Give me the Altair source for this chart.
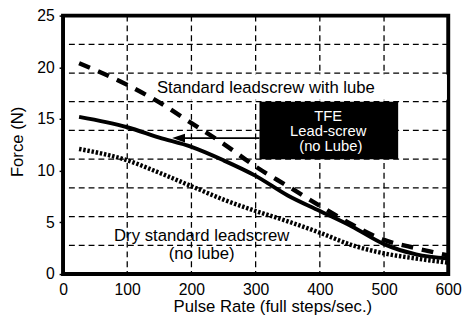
import altair as alt
import pandas as pd

# ---- data ----
pulse_rate = [25, 100, 150, 200, 250, 300, 350, 400, 450, 500, 550, 600]
force_lube = [20.4, 18.3, 16.6, 14.6, 12.6, 10.4, 8.5, 6.6, 4.8, 3.3, 2.5, 1.8]
force_tfe = [15.2, 14.2, 13.2, 12.3, 11.0, 9.5, 7.6, 6.1, 4.6, 2.9, 1.9, 1.5]
force_dry = [12.1, 11.0, 9.8, 8.5, 7.2, 6.1, 5.1, 4.0, 2.8, 2.0, 1.5, 1.1]

x_ticks = [0, 100, 200, 300, 400, 500, 600]
y_ticks = [0, 5, 10, 15, 20, 25]
grid_x = [100, 200, 300, 400, 500]
grid_y = [2.78, 5.56, 8.33, 11.11, 13.89, 16.67, 19.44, 22.22]

label_lube = "Standard leadscrew with lube"
label_tfe = ["TFE", "Lead-screw", "(no Lube)"]
label_dry = ["Dry standard leadscrew", "(no lube)"]

FONT = "Liberation Sans"

X = alt.Scale(domain=[0, 600], nice=False, zero=False)
Y = alt.Scale(domain=[0, 25], nice=False, zero=False)

x_axis = alt.Axis(values=x_ticks, title="Pulse Rate (full steps/sec.)", domain=False,
                  ticks=False, grid=False, labelFontSize=16, labelFont=FONT,
                  labelColor="black", labelPadding=8, labelOverlap=False, labelFlush=False,
                  labelBound=False, titleFont=FONT, titleFontSize=17, titleFontWeight="normal",
                  titleColor="black", titleX=213, titleY=38, titleBaseline="alphabetic",
                  titleAlign="center")
y_axis = alt.Axis(values=y_ticks, title="Force (N)", domain=False, ticks=True, tickSize=4,
                  tickColor="black", tickWidth=1.5, grid=False, labelFontSize=16,
                  labelFont=FONT, labelColor="black", labelPadding=5, labelOverlap=False,
                  labelFlush=False, labelBound=False, titleFont=FONT, titleFontSize=17,
                  titleFontWeight="normal", titleColor="black", titleAngle=270,
                  titleX=-46, titleY=128, titleAlign="center", titleBaseline="middle")

def xe(field="x"):
    return alt.X(f"{field}:Q", scale=X, axis=x_axis)

def ye(field="y"):
    return alt.Y(f"{field}:Q", scale=Y, axis=y_axis)

# grid
vgrid = alt.Chart(pd.DataFrame({"x": grid_x})).mark_rule(
    color="black", strokeWidth=1.3, strokeDash=[6, 4]).encode(x=xe("x"))
hgrid = alt.Chart(pd.DataFrame({"y": grid_y})).mark_rule(
    color="black", strokeWidth=1.3, strokeDash=[6, 4]).encode(y=ye("y"))

# white band behind the upper label
band = alt.Chart(pd.DataFrame({"x": [106], "x2": [598], "y": [16.85], "y2": [19.3]})).mark_rect(
    color="white").encode(x=xe(), x2="x2:Q", y=ye(), y2="y2:Q")

def curve(values, dash, width):
    df = pd.DataFrame({"x": pulse_rate, "y": values})
    kw = dict(color="black", strokeWidth=width, interpolate="monotone", clip=True)
    if dash:
        kw["strokeDash"] = dash
    return alt.Chart(df).mark_line(**kw).encode(x=xe(), y=ye())

line_lube = curve(force_lube, [12, 9], 4.5)
line_tfe = curve(force_tfe, None, 4)
line_dry = curve(force_dry, [2.5, 1.8], 4.5)

# TFE box + arrow
box = alt.Chart(pd.DataFrame({"x": [306], "x2": [522], "y": [11.11], "y2": [16.67]})).mark_rect(
    color="black").encode(x=xe(), x2="x2:Q", y=ye(), y2="y2:Q")
arrow_line = alt.Chart(pd.DataFrame({"x": [178], "x2": [306], "y": [13.15]})).mark_rule(
    color="black", strokeWidth=2).encode(x=xe(), x2="x2:Q", y=ye())
arrow_head = alt.Chart(pd.DataFrame({"x": [180], "y": [13.15]})).mark_point(
    shape="M -1 0 L 1 -0.7 L 1 0.7 Z", size=169, filled=True, color="black", opacity=1,
    strokeWidth=0).encode(x=xe(), y=ye())

tfe_text = alt.Chart(pd.DataFrame({"x": [413, 413, 417], "y": [14.83, 13.4, 11.95],
                                   "t": label_tfe})).mark_text(
    font=FONT, fontSize=15, color="white", align="center", baseline="alphabetic").encode(
    x=xe(), y=ye(), text="t:N")

lube_text = alt.Chart(pd.DataFrame({"x": [316], "y": [17.5], "t": [label_lube]})).mark_text(
    font=FONT, fontSize=17, color="black", align="center", baseline="alphabetic").encode(
    x=xe(), y=ye(), text="t:N")

dry_text = alt.Chart(pd.DataFrame({"x": [216, 216], "y": [3.17, 1.5], "t": label_dry})).mark_text(
    font=FONT, fontSize=17, color="black", align="center", baseline="alphabetic").encode(
    x=xe(), y=ye(), text="t:N")

chart = alt.layer(
    vgrid, hgrid, band, line_dry, line_lube, line_tfe, box, arrow_line, arrow_head,
    tfe_text, lube_text, dry_text
).properties(
    width=392, height=263,
    autosize=alt.AutoSizeParams(type="none"),
    padding={"left": 56, "top": 5, "right": 14, "bottom": 44},
).configure(background="white").configure_view(stroke="black", strokeWidth=4)

chart.save("out.html", embed_options={"renderer": "svg", "actions": False})
